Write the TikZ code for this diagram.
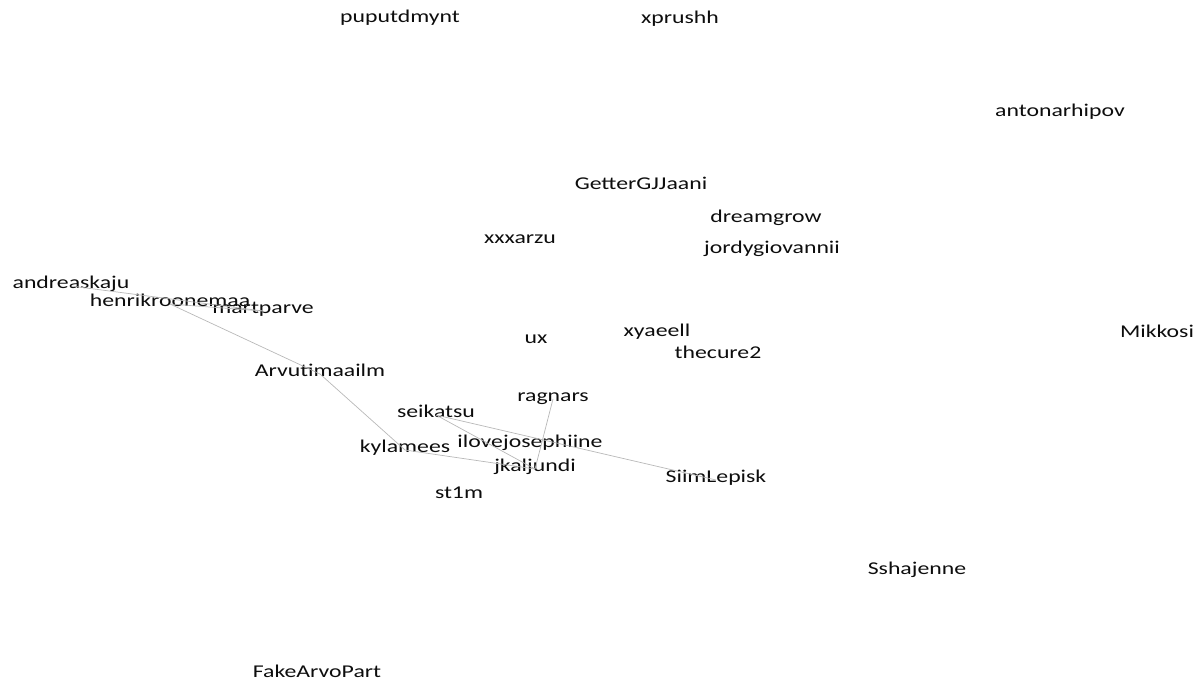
\documentclass[tikz,border=0pt]{standalone}
\usepackage{fontspec}
\setmainfont{Carlito}[FakeStretch=1.32]
\begin{document}
\begin{tikzpicture}[x=1pt,y=-1pt,
  user/.style={anchor=base,inner sep=0pt,font=\fontsize{18}{20}\selectfont,text=black!95},
  tie/.style={draw=black!28,line width=0.7pt}]
\useasboundingbox (0,0) rectangle (1201,683);
% account labels (positions are base-line centres)
\node[user] (puputdmynt)    at (400,22)  {puputdmynt};
\node[user] (xprushh)       at (680,23)  {xprushh};
\node[user] (antonarhipov)  at (1060,116) {antonarhipov};
\node[user] (GetterGJJaani) at (641,189) {GetterGJJaani};
\node[user] (dreamgrow)     at (766,222) {dreamgrow};
\node[user] (xxxarzu)       at (520,243) {xxxarzu};
\node[user] (jordygiovannii) at (772,253) {jordygiovannii};
\node[user] (andreaskaju)   at (71,288)  {andreaskaju};
\node[user] (henrikroonemaa) at (170,306) {henrikroonemaa};
\node[user] (martparve)     at (263,313) {martparve};
\node[user] (ux)            at (536,343) {ux};
\node[user] (xyaeell)       at (657,336) {xyaeell};
\node[user] (thecure2)      at (718,358) {thecure2};
\node[user] (Mikkosi)       at (1157,337) {Mikkosi};
\node[user] (Arvutimaailm)  at (320,376) {Arvutimaailm};
\node[user] (ragnars)       at (553,401) {ragnars};
\node[user] (seikatsu)      at (436,417) {seikatsu};
\node[user] (ilovejosephiine) at (530,447) {ilovejosephiine};
\node[user] (kylamees)      at (405,452) {kylamees};
\node[user] (jkaljundi)     at (535,471) {jkaljundi};
\node[user] (SiimLepisk)    at (716,482) {SiimLepisk};
\node[user] (st1m)          at (459,498) {st1m};
\node[user] (Sshajenne)     at (917,574) {Sshajenne};
\node[user] (FakeArvoPart)  at (317,677) {FakeArvoPart};
% connections, joined just above each label's base line
\tikzset{lift/.style={yshift=2pt}}
\draw[tie] ([lift]andreaskaju.base) -- ([lift]martparve.base);
\draw[tie] ([lift]henrikroonemaa.base) -- ([lift]martparve.base);
\draw[tie] ([lift]henrikroonemaa.base) -- ([lift]Arvutimaailm.base);
\draw[tie] ([lift]Arvutimaailm.base) -- ([lift]kylamees.base);
\draw[tie] ([lift]kylamees.base) -- ([lift]jkaljundi.base);
\draw[tie] ([lift]seikatsu.base) -- ([lift]jkaljundi.base);
\draw[tie] ([lift]seikatsu.base) -- ([lift]SiimLepisk.base);
\draw[tie] ([lift]ragnars.base) -- ([lift]jkaljundi.base);
\end{tikzpicture}
\end{document}
